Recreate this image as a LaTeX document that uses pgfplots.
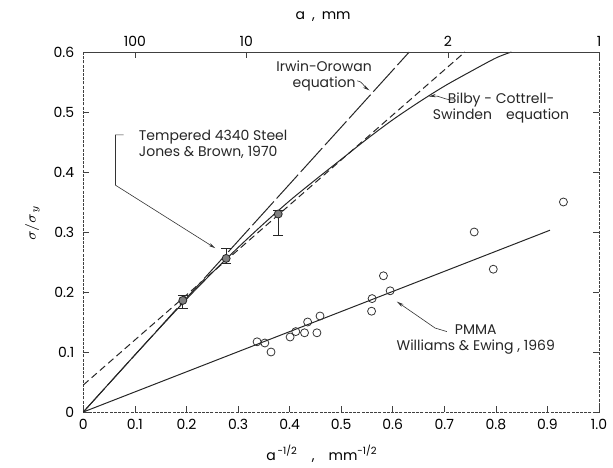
\documentclass[border=0pt]{standalone}
\usepackage{pgfplots}
\pgfplotsset{compat=1.18}
\usepackage{fontspec}
\setmainfont{Poppins}
\usetikzlibrary{arrows.meta}

\pgfplotstableread{
x y
0.337 0.117
0.352 0.115
0.364 0.100
0.401 0.125
0.412 0.134
0.429 0.132
0.435 0.150
0.453 0.132
0.459 0.160
0.560 0.189
0.559 0.168
0.582 0.227
0.595 0.202
0.758 0.300
0.795 0.238
0.931 0.350
}\pmma

\pgfplotstableread{
x y
0.00 0.000
0.10 0.095
0.20 0.188
0.25 0.232
0.30 0.274
0.35 0.314
0.40 0.352
0.45 0.387
0.50 0.421
0.55 0.455
0.60 0.487
0.65 0.516
0.70 0.543
0.75 0.567
0.80 0.590
0.83 0.600
}\bcs

\begin{document}
\fontsize{7}{8.4}\selectfont
\begin{tikzpicture}
\begin{axis}[
  at={(0,0)}, anchor=south west,
  scale only axis, width=257.85pt, height=180pt,
  xmin=0, xmax=1, ymin=0, ymax=0.6,
  xtick={0,0.1,0.2,0.3,0.4,0.5,0.6,0.7,0.8,0.9,1},
  xticklabels={0,0.1,0.2,0.3,0.4,0.5,0.6,0.7,0.8,0.9,1.0},
  ytick={0,0.1,0.2,0.3,0.4,0.5,0.6},
  yticklabels={0,0.1,0.2,0.3,0.4,0.5,0.6},
  xtick pos=lower, ytick pos=both,
  tick align=inside, major tick length=3pt,
  /pgf/number format/assume math mode=true,
  axis line style={-, black!75, dash pattern=on 1.5pt off 0.6pt, line width=0.35pt},
  tick style={black!75, line width=0.35pt},
  yticklabel style={xshift=-2pt},
  xticklabel style={yshift=-1pt},
  xlabel={a\textsuperscript{\,-1/2}\quad ,\quad mm\textsuperscript{-1/2}},
  xlabel style={at={(axis description cs:0.463,-0.117)}, anchor=center},
  ylabel={$\sigma/\sigma_{y}$},
  ylabel style={at={(axis description cs:-0.099,0.525)}, anchor=center},
  clip=false,
]
% Irwin-Orowan (long dashes)
\addplot[black!85, line width=0.5pt, dash pattern=on 16pt off 2pt] coordinates {(0,0) (0.632,0.6)};
% Bilby-Cottrell-Swinden (solid)
\addplot[black!85, line width=0.5pt, smooth] table[x=x,y=y] {\bcs};
% fit through steel data (dashed)
\addplot[black!85, line width=0.5pt, dash pattern=on 3.5pt off 2pt] coordinates {(0,0.045) (0.74,0.6)};
% PMMA line
\addplot[black!85, line width=0.5pt] coordinates {(0,0) (0.905,0.303)};
% PMMA data
\addplot[only marks, mark=o, mark size=2pt, black!80, mark options={line width=0.4pt, fill=white}] table[x=x,y=y] {\pmma};
% Steel data with error bars
\addplot[only marks, mark=*, mark size=2pt, black!85, mark options={fill=black!50, line width=0.4pt},
  error bars/.cd, y dir=both, y explicit, error mark=|, error mark options={mark size=2.5pt, line width=0.4pt},
  error bar style={line width=0.4pt}]
  coordinates {
  (0.193,0.186) += (0,0.009) -= (0,0.013)
  (0.277,0.256) += (0,0.017) -= (0,0.009)
  (0.378,0.330) += (0,0.006) -= (0,0.036)
  };
% annotations
\node[align=center, font=\fontsize{7}{8}\selectfont, text=black!85] at (axis cs:0.467,0.560) {Irwin-Orowan\\equation};
\draw[black!80, line width=0.3pt, -{Stealth[length=3.5pt,width=1.6pt]}] (axis cs:0.531,0.552) .. controls (axis cs:0.540,0.552) and (axis cs:0.545,0.542) .. (axis cs:0.555,0.536);
\node[align=center, font=\fontsize{7}{8}\selectfont, text=black!85] at (axis cs:0.81,0.506) {Bilby - Cottrell-\\Swinden\quad equation};
\draw[black!80, line width=0.3pt, -{Stealth[length=3.5pt,width=1.6pt]}] (axis cs:0.718,0.520) .. controls (axis cs:0.700,0.520) and (axis cs:0.690,0.528) .. (axis cs:0.670,0.526);
\node[align=left, anchor=west, font=\fontsize{7}{8}\selectfont, text=black!85] at (axis cs:0.098,0.446) {Tempered 4340 Steel\\Jones \& Brown, 1970};
\draw[black!80, line width=0.3pt, -{Stealth[length=3.5pt,width=1.6pt]}] (axis cs:0.078,0.462) -- (axis cs:0.0624,0.462) -- (axis cs:0.0624,0.378) -- (axis cs:0.256,0.273);
\node[align=center, font=\fontsize{7}{8}\selectfont, text=black!85] at (axis cs:0.761,0.121) {PMMA\\Williams \& Ewing , 1969};
\draw[black!80, line width=0.3pt, -{Stealth[length=3.5pt,width=1.6pt]}] (axis cs:0.705,0.134) -- (axis cs:0.682,0.140) -- (axis cs:0.608,0.184);
\end{axis}
\begin{axis}[
  at={(0,0)}, anchor=south west,
  scale only axis, width=257.85pt, height=180pt,
  xmin=0, xmax=1, ymin=0, ymax=0.6,
  axis x line*=top, axis y line=none,
  xtick={0.1,0.316228,0.707107,1},
  xticklabels={100,10,2,1},
  tick align=inside, major tick length=3pt,
  axis line style={-, black!75, dash pattern=on 1.5pt off 0.6pt, line width=0.35pt},
  tick style={black!75, line width=0.35pt},
  xlabel={a\enspace ,\enspace mm},
  xlabel style={at={(axis description cs:0.465,1.097)}, anchor=center},
]
\addplot[draw=none] coordinates {(0,0) (1,0.6)};
\end{axis}
\path (-41.65pt,-23.5pt) rectangle (264.85pt,206pt);
\end{tikzpicture}
\end{document}
